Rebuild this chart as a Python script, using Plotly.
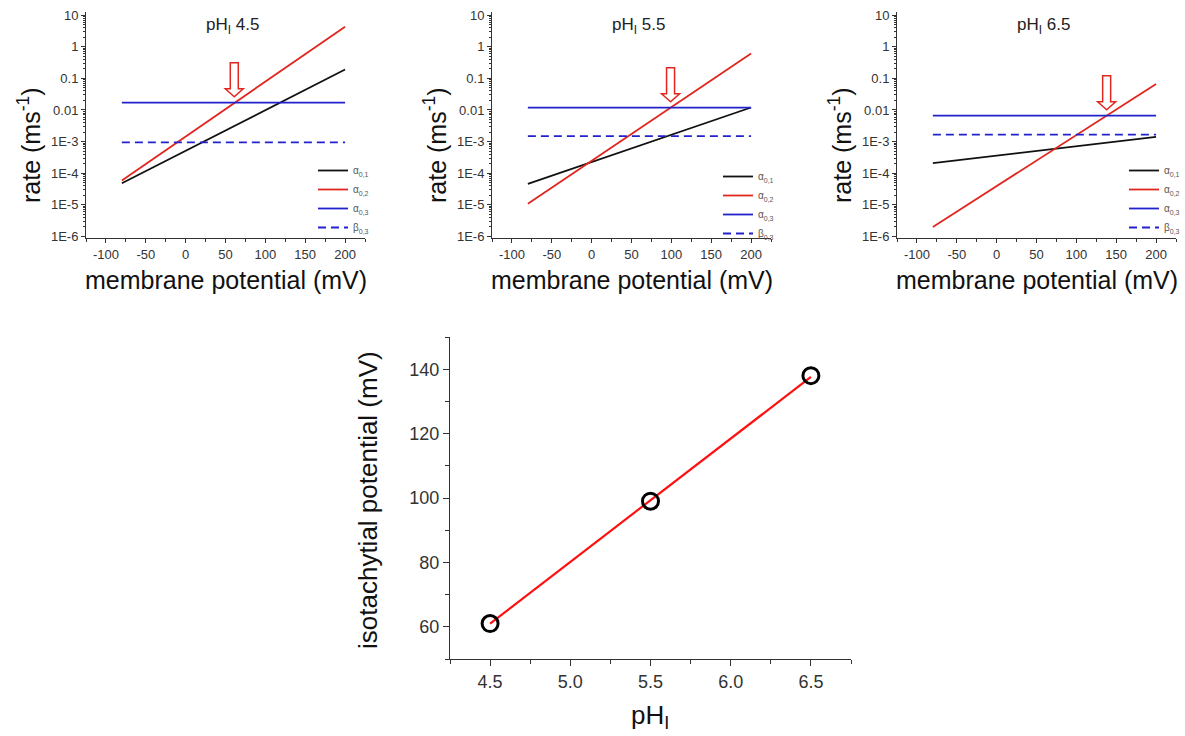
import plotly.graph_objects as go

# ---------------- data ----------------
V_ends = [-80, 200]                     # membrane potential (mV) at line ends
ph_labels = ["4.5", "5.5", "6.5"]

alpha01 = [[4.8e-5, 0.19], [4.6e-5, 0.012], [2.1e-4, 1.4e-3]]
alpha02 = [[5.9e-5, 4.3], [1.08e-5, 0.61], [2.0e-6, 0.066]]
alpha03 = [0.017, 0.0118, 0.0066]
beta03 = [9.5e-4, 1.5e-3, 1.66e-3]

pH_values = [4.5, 5.5, 6.5]
iso_potential = [61, 99, 138]
fit_x = [4.5, 6.5]
fit_y = [61.0, 137.6]

x_tick_vals = [-100, -50, 0, 50, 100, 150, 200]
x_tick_text = ["-100", "-50", "0", "50", "100", "150", "200"]
y_tick_vals = [1e-6, 1e-5, 1e-4, 1e-3, 1e-2, 1e-1, 1, 10]
y_tick_text = ["1E-6", "1E-5", "1E-4", "1E-3", "0.01", "0.1", "1", "10"]

# ---------------- style ----------------
W, H = 1185, 736
BLACK = "#111111"
RED = "#e0261f"
BLUE = "#2222cc"
AXC = "#333333"
FONT = "Liberation Sans, Arial, sans-serif"

panel_x = [(86, 365), (492, 771), (897, 1176)]   # pixel extents
panel_top, panel_bot = 12, 238
legend_pos = [(313, 156), (718, 162), (1124, 156)]

def px(x):
    return x / W

def py(y):
    return 1 - y / H

fig = go.Figure()
annotations = []
shapes = []

minor_log = [m * 10 ** e for e in range(-6, 1) for m in range(2, 10)]

def label(text, x, y, size, xref="paper", yref="paper", angle=0, color="#111111"):
    return dict(text=text, xref=xref, yref=yref, x=x, y=y, showarrow=False,
                xanchor="center", yanchor="middle", textangle=angle,
                font=dict(size=size, color=color, family=FONT))

for i in range(3):
    xa = "x" if i == 0 else f"x{i+1}"
    ya = "y" if i == 0 else f"y{i+1}"
    lg = "legend" if i == 0 else f"legend{i+1}"
    common = dict(xaxis=xa, yaxis=ya, legend=lg, mode="lines", hoverinfo="skip")
    fig.add_trace(go.Scatter(x=V_ends, y=alpha01[i], name="α<sub>0,1</sub>",
                             line=dict(color=BLACK, width=1.8), **common))
    fig.add_trace(go.Scatter(x=V_ends, y=alpha02[i], name="α<sub>0,2</sub>",
                             line=dict(color=RED, width=1.8), **common))
    fig.add_trace(go.Scatter(x=V_ends, y=[alpha03[i]] * 2, name="α<sub>0,3</sub>",
                             line=dict(color=BLUE, width=1.8), **common))
    fig.add_trace(go.Scatter(x=V_ends, y=[beta03[i]] * 2, name="β<sub>0,3</sub>",
                             line=dict(color=BLUE, width=1.8, dash="8px,5px"), **common))

    x0, x1 = panel_x[i]
    xkey = "xaxis" if i == 0 else f"xaxis{i+1}"
    ykey = "yaxis" if i == 0 else f"yaxis{i+1}"
    fig.update_layout({
        xkey: dict(domain=[px(x0), px(x1)], anchor=ya, range=[-125, 225],
                   tickmode="array", tickvals=x_tick_vals, ticktext=x_tick_text,
                   ticks="outside", ticklen=4, tickcolor=AXC,
                   minor=dict(tickmode="linear", tick0=0, dtick=25, ticks="outside",
                              ticklen=3, tickcolor=AXC),
                   showline=True, linecolor=AXC, linewidth=1,
                   showgrid=False, zeroline=False,
                   tickfont=dict(size=13, color="#333333", family=FONT)),
        ykey: dict(domain=[py(panel_bot), py(panel_top)], anchor=xa, type="log",
                   range=[-6.05, 1.1], tickmode="array", tickvals=y_tick_vals,
                   ticktext=y_tick_text, ticks="outside", ticklen=4, tickcolor=AXC,
                   minor=dict(tickmode="array", tickvals=minor_log, ticks="outside",
                              ticklen=2, tickcolor=AXC),
                   showline=True, linecolor=AXC, linewidth=1,
                   showgrid=False, zeroline=False,
                   tickfont=dict(size=13, color="#333333", family=FONT)),
        lg: dict(x=px(legend_pos[i][0]), y=py(legend_pos[i][1]), xanchor="left",
                 yanchor="top", bgcolor="rgba(0,0,0,0)", borderwidth=0,
                 font=dict(size=10, color="#555555", family=FONT),
                 tracegroupgap=0),
    })

    cx = (x0 + x1) / 2
    annotations.append(label(f"pH<sub>I</sub> {ph_labels[i]}", px(x0 + 0.525 * (x1 - x0)),
                             py(26), 17, color="#222222"))
    annotations.append(label("membrane potential (mV)", px(cx), py(280), 25))
    annotations.append(label("rate (ms<sup>-1</sup>)", px(x0 - 57), py(145), 25, angle=-90))
    # hollow arrow marking the isotachytial potential
    shapes.append(dict(type="path", xref=xa, yref=ya, xsizemode="pixel",
                       ysizemode="pixel", xanchor=iso_potential[i], yanchor=alpha03[i],
                       path="M 0 6 L -9 14 L -4 14 L -4 40 L 4 40 L 4 14 L 9 14 Z",
                       line=dict(color=RED, width=1.5), fillcolor="white",
                       layer="above"))

# ---------------- bottom panel ----------------
fig.add_trace(go.Scatter(x=fit_x, y=fit_y, xaxis="x4", yaxis="y4", mode="lines",
                         line=dict(color="#ff1010", width=2.2), showlegend=False,
                         hoverinfo="skip"))
fig.add_trace(go.Scatter(x=pH_values, y=iso_potential, xaxis="x4", yaxis="y4",
                         mode="markers", showlegend=False,
                         marker=dict(symbol="circle-open", size=16, color="black",
                                     line=dict(width=3, color="black"))))

fig.update_layout(
    xaxis4=dict(domain=[px(450), px(851)], anchor="y4", range=[4.25, 6.75],
                tickmode="linear", tick0=4.5, dtick=0.5, tickformat=".1f",
                ticks="outside", ticklen=6, tickcolor=AXC,
                minor=dict(tickmode="linear", tick0=4.25, dtick=0.25, ticks="outside",
                           ticklen=4, tickcolor=AXC),
                showline=True, linecolor=AXC, linewidth=1.2,
                showgrid=False, zeroline=False,
                tickfont=dict(size=18, color="#333333", family=FONT)),
    yaxis4=dict(domain=[py(659), py(337)], anchor="x4", range=[50, 150],
                tickmode="linear", tick0=60, dtick=20,
                ticks="outside", ticklen=6, tickcolor=AXC,
                minor=dict(tickmode="linear", tick0=50, dtick=10, ticks="outside",
                           ticklen=4, tickcolor=AXC),
                showline=True, linecolor=AXC, linewidth=1.2,
                showgrid=False, zeroline=False,
                tickfont=dict(size=18, color="#333333", family=FONT)),
)
annotations.append(label("isotachytial potential (mV)", px(368), py(500), 26, angle=-90))
annotations.append(label("pH<sub>I</sub>", px(650), py(716), 26))

fig.update_layout(
    width=W, height=H, margin=dict(l=0, r=0, t=0, b=0, autoexpand=False),
    paper_bgcolor="white", plot_bgcolor="white",
    font=dict(family=FONT),
    annotations=annotations, shapes=shapes,
)

fig.write_html("out.html",
               config={"displayModeBar": False},
               post_script="document.body.style.margin='0px';"
                           "document.body.style.overflow='hidden';")
